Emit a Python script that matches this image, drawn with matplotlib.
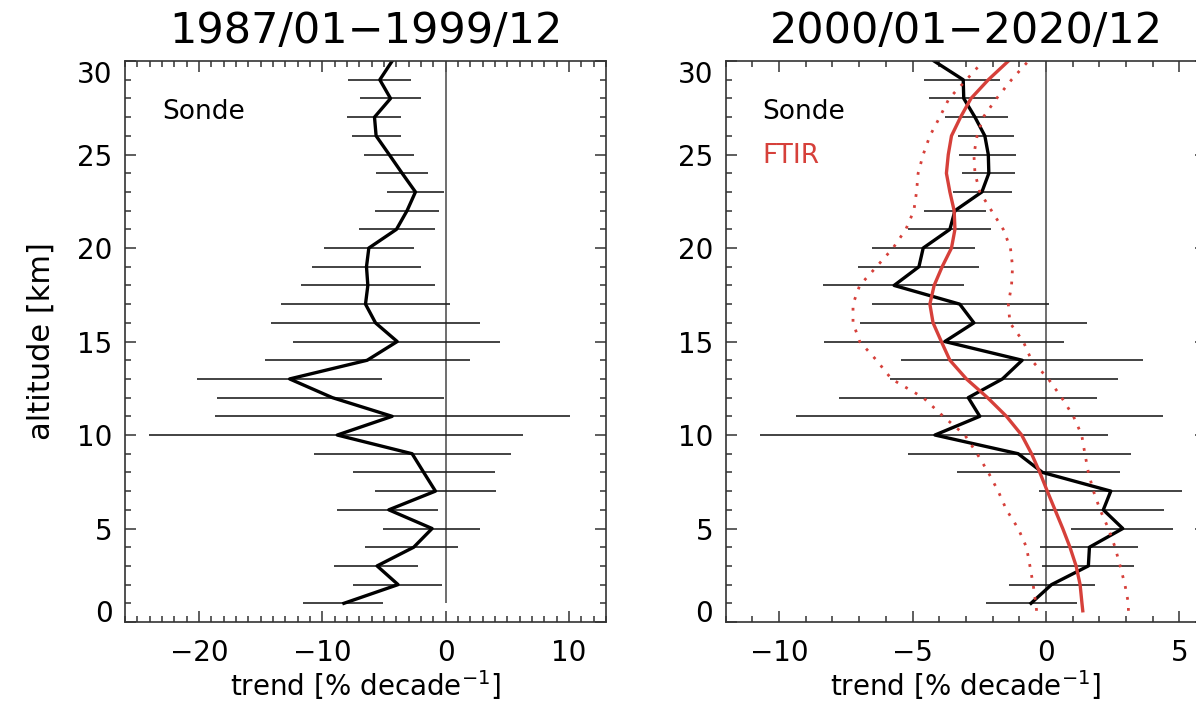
import numpy as np
import matplotlib
matplotlib.use('Agg')
import matplotlib.pyplot as plt
from matplotlib.ticker import MultipleLocator

plt.rcParams['font.family'] = ['DejaVu Sans']

red = '#d6403a'

# altitude grid [km]
alt_sonde = np.arange(1, 31)
alt_ftir = [0.6] + list(range(1, 31))

# 1987/01-1999/12 sonde trend [% / decade]
trend_87 = [-8.25, -3.86, -5.56, -2.59, -1.10, -4.61, -0.83, -1.78, -2.72, -8.79,
            -4.34, -9.19, -12.65, -6.36, -3.93, -5.69, -6.50, -6.31, -6.42, -6.23,
            -3.99, -3.13, -2.45, -3.53, -4.58, -5.64, -5.77, -4.47, -5.34, -4.34]
lo_87 = [-11.54, -7.50, -9.06, -6.50, -5.10, -8.84, -5.77, -7.50, -10.68, -24.08,
         -18.69, -18.50, -20.17, -14.64, -12.38, -14.18, -13.37, -11.75, -10.87, -9.87,
         -7.04, -5.74, -4.74, -5.61, -6.63, -7.58, -7.98, -6.96, -7.90]
hi_87 = [-5.07, -0.30, -2.24, 1.00, 2.81, -0.62, 4.11, 3.97, 5.32, 6.31,
         10.09, -0.16, -5.15, 2.00, 4.42, 2.76, 0.38, -0.84, -1.97, -2.53,
         -0.84, -0.51, -0.16, -1.40, -2.53, -3.61, -3.66, -1.97, -2.78]

# 2000/01-2020/12 sonde trend
trend_00 = [-0.56, 0.21, 1.59, 1.63, 2.88, 2.15, 2.43, -0.13, -1.04, -4.16,
            -2.48, -2.91, -1.63, -0.89, -3.79, -2.70, -3.23, -5.69, -4.76, -4.60,
            -3.60, -3.41, -2.40, -2.14, -2.16, -2.29, -2.66, -3.08, -3.10, -4.19]
lo_00 = [-2.25, -1.38, -0.16, -0.23, 0.94, -0.16, -0.25, -3.35, -5.16, -10.70,
         -9.38, -7.76, -5.85, -5.45, -8.33, -6.95, -6.50, -8.35, -7.04, -6.51,
         -5.16, -4.56, -3.48, -3.14, -3.25, -3.31, -3.79, -4.38, -4.56]
hi_00 = [1.18, 1.84, 3.31, 3.44, 4.78, 4.43, 5.09, 2.78, 3.18, 2.34,
         4.40, 1.93, 2.69, 3.63, 0.68, 1.55, 0.11, -3.06, -2.51, -2.64,
         -2.06, -2.25, -1.26, -1.16, -1.13, -1.19, -1.44, -1.85, -1.73]

# FTIR trend and its uncertainty range
ftir = [1.38, 1.35, 1.28, 1.13, 0.90, 0.63, 0.34, 0.05, -0.23, -0.54, -0.91,
        -1.48, -2.19, -2.98, -3.60, -3.92, -4.23, -4.35, -4.19, -3.89, -3.54,
        -3.41, -3.44, -3.60, -3.73, -3.66, -3.54, -3.20, -2.81, -2.16, -1.41]
ftir_lo = [-0.35, -0.38, -0.48, -0.60, -0.73, -1.04, -1.48, -1.79, -2.16, -2.58, -3.04,
           -3.85, -4.60, -5.79, -6.35, -6.98, -7.23, -7.23, -6.98, -6.35, -5.73,
           -5.25, -4.95, -4.85, -4.79, -4.60, -4.35, -3.98, -3.63, -2.98, -2.35]
ftir_hi = [3.09, 3.09, 2.96, 2.78, 2.59, 2.34, 2.03, 1.78, 1.59, 1.46, 1.34,
           1.03, 0.59, 0.09, -0.54, -0.85, -1.35, -1.41, -1.29, -1.25, -1.33,
           -1.60, -2.04, -2.48, -2.66, -2.70, -2.58, -2.35, -1.85, -1.29, -0.66]

titles = ['1987/01\u22121999/12', '2000/01\u22122020/12']
ytop = 30

fig = plt.figure(figsize=(11.96, 7.21), dpi=100)
ax1 = fig.add_axes([0.1045, 0.1373, 0.4022, 0.778])
ax2 = fig.add_axes([0.6068, 0.1373, 0.4016, 0.778])


def style(ax, xlim, major, title):
    ax.set_xlim(*xlim)
    ax.set_ylim(0, ytop)
    ax.xaxis.set_major_locator(MultipleLocator(major))
    ax.xaxis.set_minor_locator(MultipleLocator(1))
    ax.yaxis.set_major_locator(MultipleLocator(5))
    ax.yaxis.set_minor_locator(MultipleLocator(1))
    ax.tick_params(which='both', direction='in', top=True, right=True,
                   color='#333333', width=1.1, labelsize=20)
    ax.tick_params(which='major', length=8)
    ax.tick_params(which='minor', length=4.5)
    ax.tick_params(axis='x', pad=12)
    ax.tick_params(axis='y', pad=9)
    for s in ax.spines.values():
        s.set_color('#333333')
        s.set_linewidth(1.2)
    ax.set_title(title, fontsize=31, pad=13)
    ax.set_xlabel('trend [% decade$^{-1}$]', fontsize=20, labelpad=1)


# left panel
ax1.vlines(0, alt_sonde[0], ytop, color='#555555', lw=1.2)
ax1.hlines(alt_sonde[:-1], lo_87, hi_87, color='#222222', lw=1.2)
ax1.plot(trend_87, alt_sonde, color='black', lw=2.4)
style(ax1, (-26, 13), 10, titles[0])
ax1.set_ylabel('altitude [km]', fontsize=22, labelpad=15)
ax1.text(0.077, 0.897, 'Sonde', transform=ax1.transAxes, fontsize=19,
         va='baseline')

# right panel
ax2.vlines(0, alt_sonde[0], ytop, color='#555555', lw=1.2)
ax2.hlines(alt_sonde[:-1], lo_00, hi_00, color='#222222', lw=1.2)
ax2.plot(trend_00, alt_sonde, color='black', lw=2.4)
ax2.plot(ftir_lo, alt_ftir, color=red, lw=2, linestyle=(0, (1, 3)))
ax2.plot(ftir_hi, alt_ftir, color=red, lw=2, linestyle=(0, (1, 3)))
ax2.plot(ftir, alt_ftir, color=red, lw=2.4)
style(ax2, (-12, 6), 5, titles[1])
ax2.text(0.0756, 0.897, 'Sonde', transform=ax2.transAxes, fontsize=19,
         va='baseline')
ax2.text(0.0756, 0.818, 'FTIR', transform=ax2.transAxes, fontsize=19,
         va='baseline', color=red)

# end labels of the altitude axis sit inside the frame
fig.canvas.draw()
for ax in (ax1, ax2):
    for t, lab in zip(ax.get_yticks(), ax.get_yticklabels()):
        if t == 0:
            lab.set_va('baseline')
        elif t == ytop:
            lab.set_va('top')

fig.savefig('out.png', dpi=100)
